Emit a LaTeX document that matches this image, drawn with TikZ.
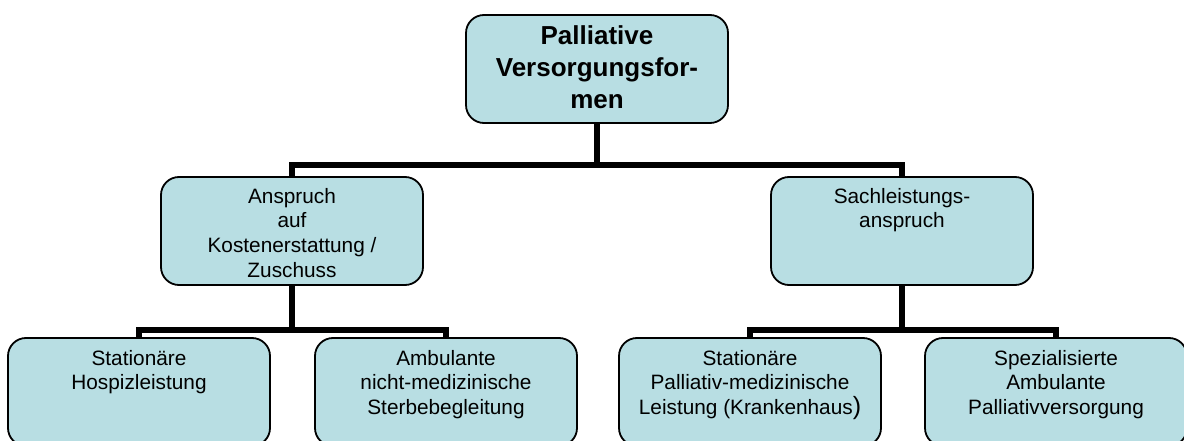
\documentclass[tikz,border=0pt]{standalone}
\usepackage{fontspec}
\setmainfont{Liberation Sans}
\definecolor{kastenblau}{RGB}{184,222,227}
\tikzstyle{kasten}=[draw, line width=1.8pt, fill=kastenblau, rounded corners=18pt, inner sep=0pt,
    minimum width=262pt, minimum height=108pt]
\tikzstyle{balken}=[line width=5.5pt, line join=miter]
\newcommand{\inhalt}[2]{\parbox[c][108pt][t]{256pt}{\centering\vspace*{#1}#2}}
\newcommand{\normaltext}{\fontsize{20.8}{24.8}\selectfont}

\begin{document}
\begin{tikzpicture}[x=1pt, y=-1pt]
            \clip (0,0) rectangle (1184,441);
            \node[kasten] (formen) at (597,69)
                {\inhalt{11pt}{\fontsize{26}{32}\selectfont\bfseries Palliative\\Versorgungsfor-\\men}};

            \node[kasten] (kosten) at (292,231)
                {\inhalt{11pt}{\normaltext Anspruch\\auf\\Kostenerstattung /\\Zuschuss}};
            \node[kasten] (sach) at (902,231)
                {\inhalt{11pt}{\normaltext Sachleistungs-\\anspruch}};

            \node[kasten] (hospiz) at (139,392)
                {\inhalt{12pt}{\normaltext Stationäre\\Hospizleistung}};
            \node[kasten] (sterbe) at (446,392)
                {\inhalt{12pt}{\normaltext Ambulante\\nicht-medizinische\\Sterbebegleitung}};
            \node[kasten] (krankenhaus) at (750,392)
                {\inhalt{12pt}{\normaltext Stationäre\\Palliativ-medizinische\\Leistung (Krankenhaus{\fontsize{25}{24.8}\selectfont)}}};
            \node[kasten] (sapv) at (1056,392)
                {\inhalt{12pt}{\normaltext Spezialisierte\\Ambulante\\Palliativversorgung}};

            % Verbindungen
            \coordinate (oben) at (597,165);
            \coordinate (unten) at (0,330);
            \draw[balken] (formen.south) -- (formen.south |- oben);
            \draw[balken] (kosten.north) -- (kosten.north |- oben)
                -- (sach.north |- oben) -- (sach.north);

            \draw[balken] (kosten.south) -- (kosten.south |- unten);
            \draw[balken] (hospiz.north) -- (hospiz.north |- unten)
                -- (sterbe.north |- unten) -- (sterbe.north);
            \draw[balken] (sach.south) -- (sach.south |- unten);
            \draw[balken] (krankenhaus.north) -- (krankenhaus.north |- unten)
                -- (sapv.north |- unten) -- (sapv.north);
        \end{tikzpicture}
\end{document}
